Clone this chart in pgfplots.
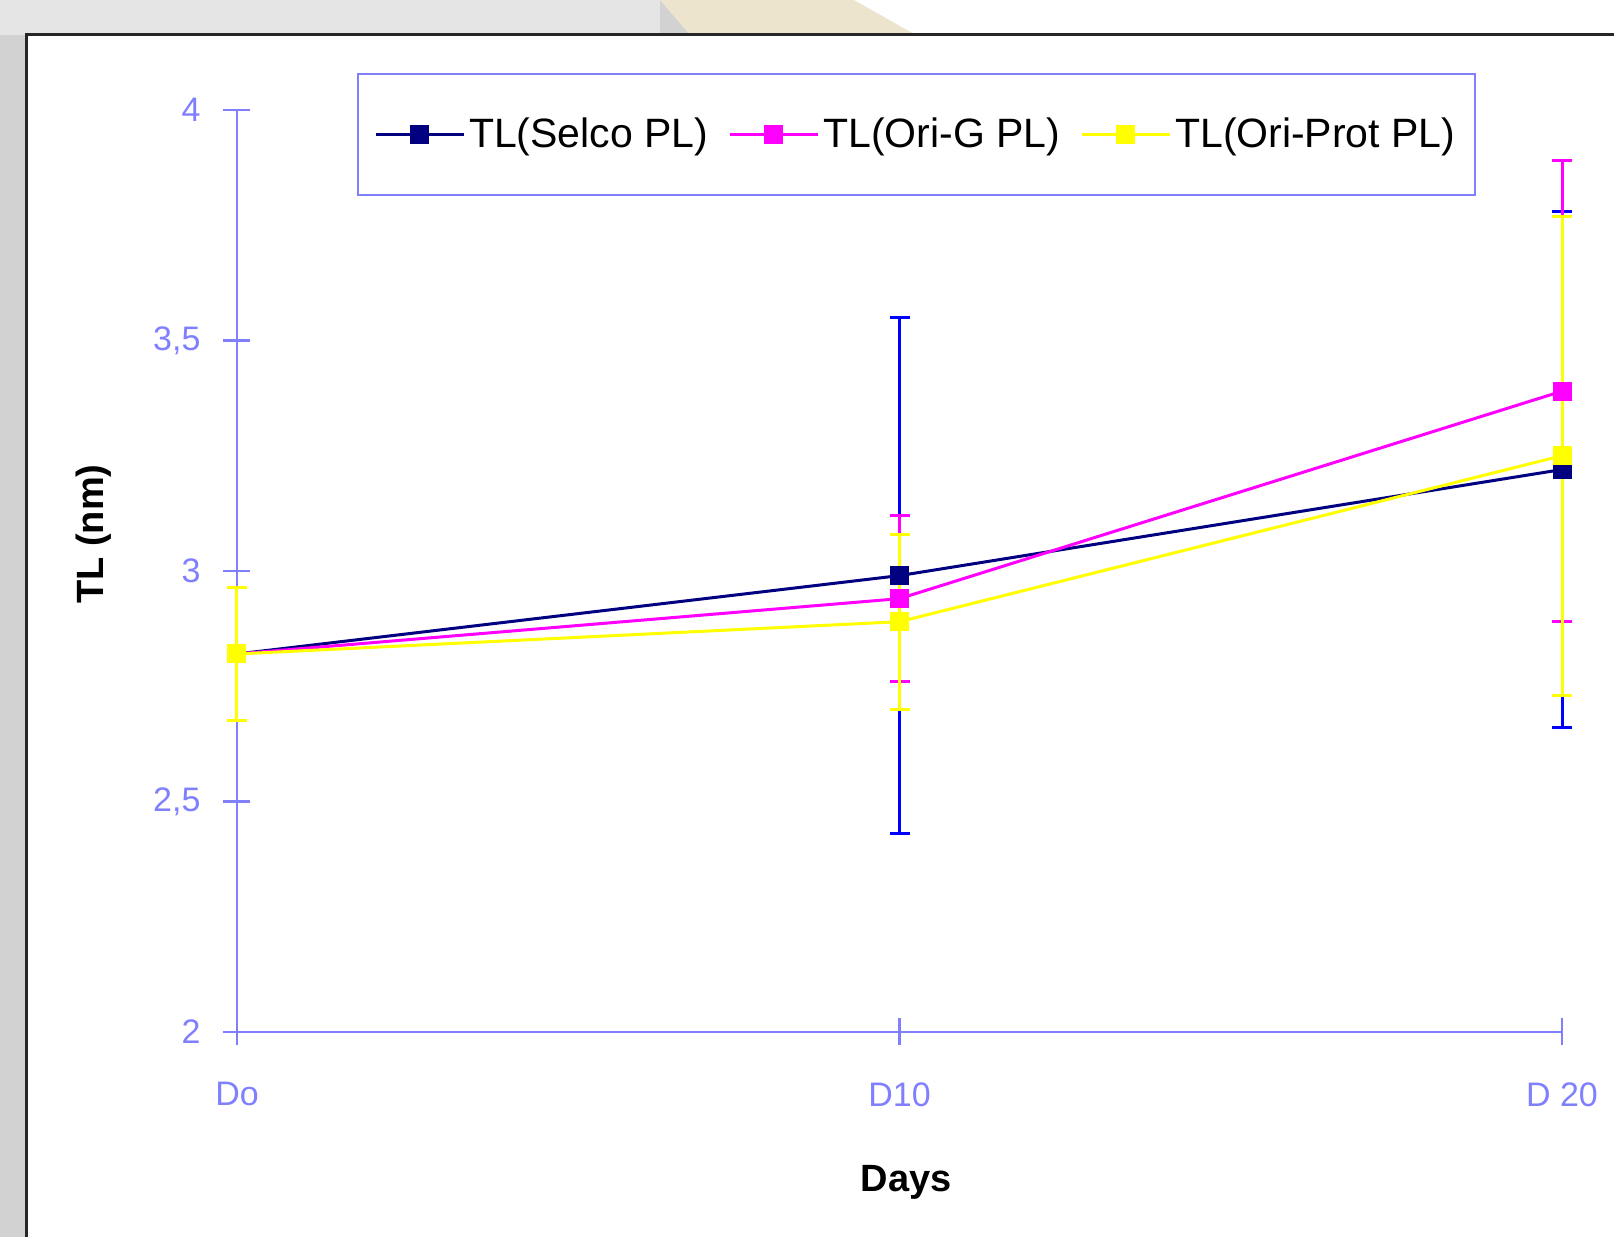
\documentclass[border=0pt]{standalone}
\usepackage{pgfplots}
\pgfplotsset{compat=1.18}
\usepackage{fontspec}
\setmainfont{Liberation Sans}
\definecolor{axblue}{RGB}{128,128,255}
\definecolor{selco}{RGB}{0,0,128}
\definecolor{selcoerr}{RGB}{0,0,255}
\definecolor{orig}{RGB}{255,0,255}
\definecolor{oriprot}{RGB}{255,255,0}
\definecolor{bggray}{RGB}{210,210,210}
\definecolor{beige}{RGB}{236,228,204}
\pgfplotstableread{
x y e
0 2.82 0
10 2.99 0.56
20 3.22 0.56
}\selco
\pgfplotstableread{
x y e
0 2.82 0
10 2.94 0.18
20 3.39 0.50
}\orig
\pgfplotstableread{
x y e
0 2.82 0.145
10 2.89 0.19
20 3.25 0.52
}\oriprot
\begin{document}
\begin{tikzpicture}[x=1pt,y=1pt]
\useasboundingbox (0,0) rectangle (807,618.5);
\fill[bggray] (0,0) rectangle (807,618.5);
\fill[gray!20] (0,601) rectangle (330,618.5);
\fill[beige] (330,618.5) -- (427,618.5) -- (458,601) -- (345,601) -- cycle;
\fill[white] (427,618.5) -- (807,618.5) -- (807,601) -- (458,601) -- cycle;
\fill[white] (13,0) rectangle (807,601.25);
\draw[black!85, line width=1.5pt] (13,0) -- (13,601.25) -- (807,601.25);
\begin{axis}[
  at={(118.5pt,102.5pt)}, anchor=south west,
  scale only axis, width=662.5pt, height=461pt,
  xmin=0, xmax=20, ymin=2, ymax=4,
  axis lines=left,
  axis line style={axblue, line width=1.2pt, -},
  xtick={0,10,20}, xticklabels={Do, D10, D 20},
  ytick={2,2.5,3,3.5,4},
  /pgf/number format/use comma,
  /pgf/number format/assume math mode=true,
  tick style={axblue, line width=1.2pt},
  major tick length=13.5pt, tick align=center,
  ticklabel style={font=\fontsize{17}{20}\selectfont, text=axblue},
  yticklabel style={xshift=-8pt},
  xticklabel style={yshift=-15pt},
  xlabel={Days}, ylabel={TL (nm)},
  every axis y label/.style={at={(axis description cs:-0.108,0.54)}, rotate=90, anchor=center,
    font=\fontsize{19}{22}\selectfont\bfseries},
  every axis x label/.style={at={(axis description cs:0.505,-0.163)}, anchor=center,
    font=\fontsize{19}{22}\selectfont\bfseries},
  clip=false,
  legend columns=3,
  legend style={at={(axis description cs:0.0906,1.040)}, anchor=north west,
    draw=axblue, line width=1pt, font=\fontsize{20.5}{24}\selectfont,
    inner ysep=20pt, inner xsep=8pt,
    /tikz/every even column/.append style={column sep=8pt}},
  legend image code/.code={\draw[mark repeat=2,mark phase=2] plot coordinates {(0pt,0pt) (22pt,0pt) (44pt,0pt)};},
]
\addplot[selco, line width=1.5pt, mark=square*, mark size=4pt, mark options={solid, fill=selco},
  error bars/.cd, y dir=both, y explicit,
  error bar style={selcoerr, line width=1.5pt},
  error mark options={rotate=90, selcoerr, mark size=5pt, line width=1.5pt}]
  table[x=x, y=y, y error=e] {\selco};
\addlegendentry{TL(Selco PL)}
\addplot[orig, line width=1.5pt, mark=square*, mark size=4pt, mark options={solid, fill=orig},
  error bars/.cd, y dir=both, y explicit,
  error bar style={orig, line width=1.5pt},
  error mark options={rotate=90, orig, mark size=5pt, line width=1.5pt}]
  table[x=x, y=y, y error=e] {\orig};
\addlegendentry{TL(Ori-G PL)}
\addplot[oriprot, line width=1.5pt, mark=square*, mark size=4pt, mark options={solid, fill=oriprot},
  error bars/.cd, y dir=both, y explicit,
  error bar style={oriprot, line width=1.5pt},
  error mark options={rotate=90, oriprot, mark size=5pt, line width=1.5pt}]
  table[x=x, y=y, y error=e] {\oriprot};
\addlegendentry{TL(Ori-Prot PL)}
\end{axis}
\end{tikzpicture}
\end{document}
